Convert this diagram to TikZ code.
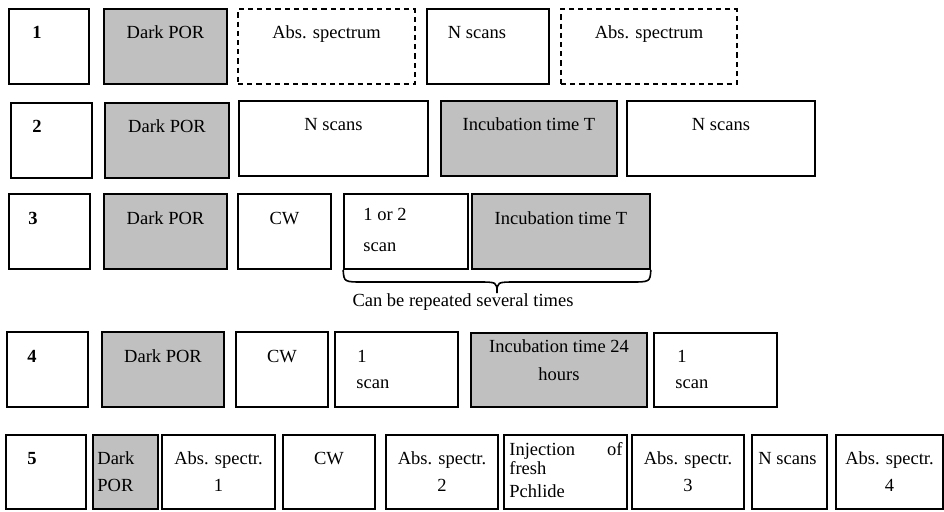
\documentclass[tikz,border=0pt]{standalone}
\usepackage{fontspec}
\setmainfont{Liberation Serif}
\usetikzlibrary{fit}
\definecolor{boxgray}{RGB}{192,192,192}
\newcommand\fs{\fontsize{9.25}{11}\selectfont}
\newcommand\mybox[6]{%
  \path (#3,#4) coordinate (#1-nw) (#5,#6) coordinate (#1-se);
  \node[fit=(#1-nw)(#1-se), inner sep=0pt, #2] (#1) {};
}
\tikzset{
  plain/.style={draw=black, line width=0.85pt, fill=white},
  shaded/.style={draw=black, line width=0.85pt, fill=boxgray},
  dashbox/.style={draw=black, line width=0.85pt, dash pattern=on 2.6pt off 2pt},
  txt/.style={anchor=base, inner sep=0pt, font=\fs},
  ltxt/.style={anchor=base west, inner sep=0pt, font=\fs},
  num/.style={anchor=base west, inner sep=0pt, font=\fs\bfseries},
  bracestyle/.style={draw=black, line width=0.8pt},
}
\begin{document}
\begin{tikzpicture}[x=0.5pt,y=-0.5pt]
\useasboundingbox (0,0) rectangle (944,511);
% Row 1
\mybox{a1}{plain}{9}{9}{89}{84}
\mybox{a2}{shaded}{104}{9}{227}{84}
\mybox{a3}{dashbox}{238}{9}{415}{84}
\mybox{a4}{plain}{427}{9}{549}{84}
\mybox{a5}{dashbox}{561}{9}{737}{84}
\node[num] (ta1) at (32,38) {1};
\node[txt] (ta2) at (165.5,38) {Dark POR};
\node[txt] (ta3) at (326.5,38) {Abs. spectrum};
\node[txt] (ta4) at (477,38) {N scans};
\node[txt] (ta5) at (649,38) {Abs. spectrum};
% Row 2
\mybox{b1}{plain}{11}{103}{92}{178}
\mybox{b2}{shaded}{105}{103}{229}{178}
\mybox{b3}{plain}{239}{101}{428}{176}
\mybox{b4}{shaded}{441}{101}{617}{176}
\mybox{b5}{plain}{627}{101}{815}{176}
\node[num] (tb1) at (32,132) {2};
\node[txt] (tb2) at (167,132) {Dark POR};
\node[txt] (tb3) at (333.5,130) {N scans};
\node[txt] (tb4) at (529,130) {Incubation time T};
\node[txt] (tb5) at (721,130) {N scans};
% Row 3
\mybox{c1}{plain}{9}{194}{90}{269}
\mybox{c2}{shaded}{104}{194}{227}{269}
\mybox{c3}{plain}{238}{194}{331}{269}
\mybox{c4}{plain}{344}{194}{468}{269}
\mybox{c5}{shaded}{472}{194}{650}{269}
\node[num] (tc1) at (28,224) {3};
\node[txt] (tc2) at (165.5,224) {Dark POR};
\node[txt] (tc3) at (284.5,224) {CW};
\node[ltxt] (tc4) at (363,220) {1 or 2};
\node[ltxt] (tc4b) at (363,251) {scan};
\node[txt] (tc5) at (561,224) {Incubation time T};
\coordinate (btip) at (497,293);
\draw[bracestyle] (c4.south west) .. controls (344,282) .. (364,282) -- (478,282)
  .. controls (497,282) .. (btip) .. controls (497,282) .. (516,282) -- (630,282)
  .. controls (650,282) .. (c5.south east);
\node[txt] (tcrep) at (463,306) {Can be repeated several times};
% Row 4
\mybox{d1}{plain}{7}{332}{88}{407}
\mybox{d2}{shaded}{102}{332}{224}{407}
\mybox{d3}{plain}{236}{332}{328}{407}
\mybox{d4}{plain}{335}{332}{458}{407}
\mybox{d5}{shaded}{471}{333}{647}{407}
\mybox{d6}{plain}{654}{333}{777}{407}
\node[num] (td1) at (27,362) {4};
\node[txt] (td2) at (163,362) {Dark POR};
\node[txt] (td3) at (282,362) {CW};
\node[ltxt] (td4) at (357,362) {1};
\node[ltxt] (td4b) at (356,388) {scan};
\node[txt] (td5) at (559,352) {Incubation time 24};
\node[txt] (td5b) at (559,380) {hours};
\node[ltxt] (td6) at (677,362) {1};
\node[ltxt] (td6b) at (675,388) {scan};
% Row 5
\mybox{e1}{plain}{6}{435}{86}{509}
\mybox{e2}{shaded}{93}{435}{158}{509}
\mybox{e3}{plain}{162}{435}{275}{509}
\mybox{e4}{plain}{283}{435}{375}{509}
\mybox{e5}{plain}{386}{435}{498}{509}
\mybox{e6}{plain}{504}{435}{627}{509}
\mybox{e7}{plain}{632}{435}{744}{509}
\mybox{e8}{plain}{752}{435}{827}{509}
\mybox{e9}{plain}{836}{435}{943}{509}
\node[num] (te1) at (27,464) {5};
\node[ltxt] (te2) at (97,464) {Dark};
\node[ltxt] (te2b) at (97,491) {POR};
\node[txt] (te3) at (218.5,464) {Abs. spectr.};
\node[txt] (te3b) at (218.5,491) {1};
\node[txt] (te4) at (329,464) {CW};
\node[txt] (te5) at (442,464) {Abs. spectr.};
\node[txt] (te5b) at (442,491) {2};
\node[ltxt] (te6) at (509,455) {Injection};
\node[anchor=base east, inner sep=0pt, font=\fs] (te6o) at (623,455) {of};
\node[ltxt] (te6b) at (509,474) {fresh};
\node[ltxt] (te6c) at (509,497) {Pchlide};
\node[txt] (te7) at (688,464) {Abs. spectr.};
\node[txt] (te7b) at (688,491) {3};
\node[ltxt] (te8) at (758,464) {N scans};
\node[txt] (te9) at (889.5,464) {Abs. spectr.};
\node[txt] (te9b) at (889.5,491) {4};
\end{tikzpicture}
\end{document}
